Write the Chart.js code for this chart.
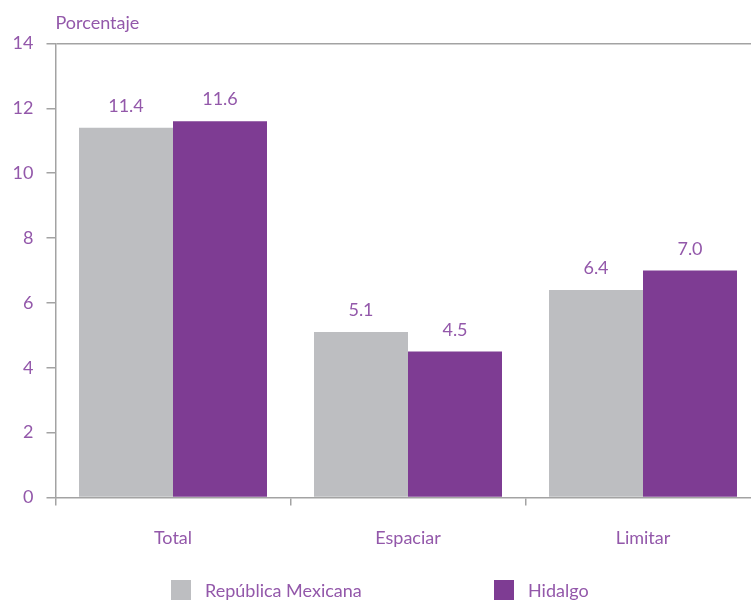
<!DOCTYPE html>
<html>
<head>
<meta charset="utf-8">
<script src="https://cdn.jsdelivr.net/npm/chart.js@4.4.1/dist/chart.umd.min.js"></script>
<style>
  html, body { margin: 0; padding: 0; background: #fff; overflow: hidden; }
  .wrap { width: 765px; height: 604px; }
</style>
</head>
<body>
<div class="wrap"><canvas id="myChart" width="765" height="604"></canvas></div>
<script>
const categories = ["Total", "Espaciar", "Limitar"];
const seriesNames = ["República Mexicana", "Hidalgo"];
const mexico = [11.4, 5.1, 6.4];
const hidalgo = [11.6, 4.5, 7.0];
const yTicks = [0, 2, 4, 6, 8, 10, 12, 14];

const grey = "#bdbec1";
const purple = "#7e3c93";
const textColor = "#9358aa";
const lineColor = "#a3a3a3";
const font = "Lato";
const fontWeight = 400;

// value labels above bars
const valueLabels = {
  id: "valueLabels",
  afterDatasetsDraw(chart) {
    const ctx = chart.ctx;
    ctx.save();
    ctx.font = fontWeight + " 18px " + font;
    ctx.fillStyle = textColor;
    ctx.textAlign = "center";
    ctx.textBaseline = "alphabetic";
    chart.data.datasets.forEach((ds, i) => {
      chart.getDatasetMeta(i).data.forEach((bar, j) => {
        ctx.fillText(ds.data[j].toFixed(1), bar.x, bar.y - 16);
      });
    });
    ctx.restore();
  }
};

// axis title + legend
const extras = {
  id: "extras",
  afterDraw(chart) {
    const ctx = chart.ctx;
    ctx.save();
    ctx.font = fontWeight + " 18px " + font;
    ctx.fillStyle = textColor;
    ctx.textAlign = "left";
    ctx.textBaseline = "alphabetic";
    ctx.fillText("Porcentaje", chart.chartArea.left, 29);

    const boxX = [171, 494];
    chart.data.datasets.forEach((ds, i) => {
      ctx.fillStyle = ds.backgroundColor;
      ctx.fillRect(boxX[i], 580, 20, 20);
      ctx.fillStyle = textColor;
      ctx.textBaseline = "middle";
      ctx.fillText(ds.label, boxX[i] + 34, 591);
    });
    ctx.restore();
  }
};

const data = {
  labels: categories,
  datasets: [{
    label: seriesNames[0],
    data: mexico,
    backgroundColor: grey,
    categoryPercentage: 0.8,
    barPercentage: 1.0
  }, {
    label: seriesNames[1],
    data: hidalgo,
    backgroundColor: purple,
    categoryPercentage: 0.8,
    barPercentage: 1.0
  }]
};

const config = {
  type: "bar",
  data: data,
  options: {
    responsive: false,
    animation: false,
    layout: {
      padding: { top: 43.5, left: 0, right: 4.5, bottom: 56.5 }
    },
    plugins: {
      legend: { display: false },
      tooltip: { enabled: false }
    },
    scales: {
      x: {
        afterFit: (s) => { s.height = 50; },
        grid: {
          offset: true,
          drawOnChartArea: false,
          tickLength: 8,
          tickColor: lineColor,
          lineWidth: 1.5
        },
        border: { color: lineColor, width: 1.5 },
        ticks: {
          padding: 22,
          color: textColor,
          font: { family: font, size: 18, weight: fontWeight }
        }
      },
      y: {
        min: 0,
        max: 14,
        afterFit: (s) => { s.width = 55.5; },
        afterBuildTicks: (s) => { s.ticks = yTicks.map(v => ({ value: v })); },
        grid: {
          color: (c) => c.tick && c.tick.value === 14 ? lineColor : "transparent",
          tickColor: lineColor,
          tickLength: 9,
          lineWidth: 1.5
        },
        border: { color: lineColor, width: 1.5 },
        ticks: {
          padding: 13,
          color: textColor,
          font: { family: font, size: 18, weight: fontWeight }
        }
      }
    }
  },
  plugins: [valueLabels, extras]
};

const myChart = new Chart(document.getElementById("myChart"), config);
</script>
</body>
</html>
